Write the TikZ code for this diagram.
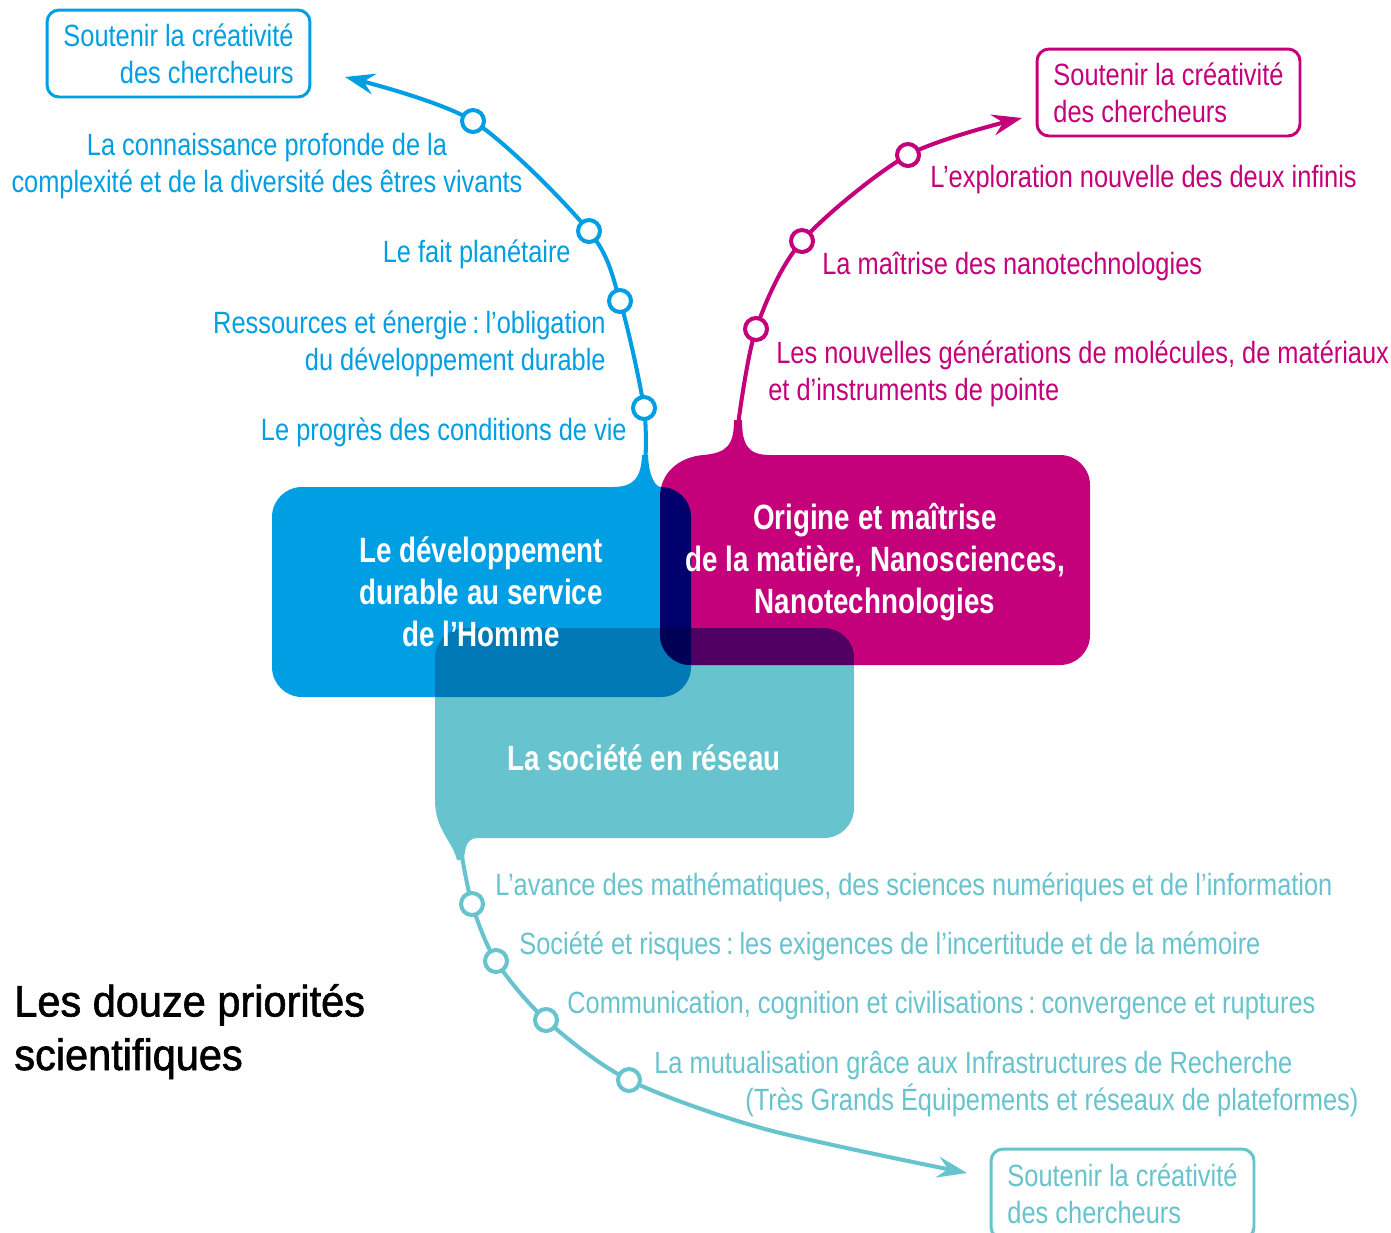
\documentclass[tikz,border=0pt]{standalone}
\usepackage{fontspec}
\setmainfont{Liberation Sans}[FakeStretch=0.826]
\newfontfamily\titlefont{Liberation Sans}[FakeStretch=0.945,FakeBold=1.4]
\newfontfamily\boxfont{Liberation Sans}[FakeStretch=0.79]
\usetikzlibrary{arrows.meta}
\definecolor{cblue}{HTML}{009FE3}
\definecolor{cmag}{HTML}{C5007B}
\definecolor{ccyan}{HTML}{67C3CD}
\newcommand{\colsep}{\,:\hspace{0.2em}}
\begin{document}
\begin{tikzpicture}[x=0.02cm,y=-0.02cm,
 lbl/.style={inner sep=0pt, font=\fontsize{17.5}{21}\selectfont},
 ttl/.style={inner sep=0pt, text=white, align=center, font=\boxfont\bfseries\fontsize{20}{23.8}\selectfont},
 dot/.style={circle, draw=#1, fill=white, line width=2.3pt, minimum size=0.44cm, inner sep=0pt},
 route/.style={draw=#1, line width=2.3pt, -{Stealth[length=17pt,width=12pt,inset=6pt]}},
 goal/.style={draw=#1, text=#1, line width=1.7pt, rounded corners=0.24cm, minimum width=5.26cm, minimum height=1.74cm, inner sep=0pt, font=\fontsize{17.5}{21}\selectfont}]
\path[use as bounding box] (0,0) rectangle (1391,1232);
\clip (0,0) rectangle (1391,1232);
\fill[white] (0,0) rectangle (1391,1232);

% coloured boxes
\begin{scope}[blend mode=multiply]
\fill[cblue] (302,487) -- (612,487) .. controls (634,487) and (641,478) .. (642,455) -- (648,455) .. controls (649,478) and (656,487) .. (661,487) .. controls (677.6,487) and (691,500.4) .. (691,517) -- (691,667) .. controls (691,683.6) and (677.6,697) .. (661,697) -- (302,697) .. controls (285.4,697) and (272,683.6) .. (272,667) -- (272,517) .. controls (272,500.4) and (285.4,487) .. (302,487) -- cycle;
\fill[cmag] (734,420) -- (742,420) .. controls (742,445) and (748,455) .. (770,455) -- (1060,455) .. controls (1076.6,455) and (1090,468.4) .. (1090,485) -- (1090,635) .. controls (1090,651.6) and (1076.6,665) .. (1060,665) -- (690,665) .. controls (673.4,665) and (660,651.6) .. (660,635) -- (660,497) .. controls (660,472) and (680,457) .. (703,455) .. controls (727,453) and (734,445) .. (734,420) -- cycle;
\fill[ccyan] (465,628) -- (824,628) .. controls (840.6,628) and (854,641.4) .. (854,658) -- (854,808) .. controls (854,824.6) and (840.6,838) .. (824,838) -- (478,838) .. controls (468,838) and (465,845) .. (464,860) -- (457,860) .. controls (452,840) and (435,830) .. (435,800) -- (435,658) .. controls (435,641.4) and (448.4,628) .. (465,628) -- cycle;
\end{scope}

\node[ttl] (dev) at (481,592) {Le développement\\durable au service\\de l’Homme};
\node[ttl] (mat) at (875,562) {Origine et maîtrise\\de la matière, Nanosciences,\\Nanotechnologies};
\node[ttl, anchor=base] (soc) at (644,770) {La société en réseau};

% goal boxes
\node[goal=cblue, align=right] (gb) at (178.5,53.5) {Soutenir la créativité\\des chercheurs};
\node[goal=cmag, align=left] (gm) at (1168.5,92.5) {Soutenir la créativité\\des chercheurs};
\node[goal=ccyan, align=left, minimum height=1.8cm] (gc) at (1122.5,1194) {Soutenir la créativité\\des chercheurs};

% route coordinates
\coordinate (bt) at (645,470);
\coordinate (b1) at (644,408);
\coordinate (b2) at (620,301);
\coordinate (b3) at (589,231);
\coordinate (b4) at (473,121);
\coordinate (be) at (345,77);
\coordinate (mt) at (738,425);
\coordinate (m1) at (756,329);
\coordinate (m2) at (802,241);
\coordinate (m3) at (908,155);
\coordinate (me) at (1022,118);
\coordinate (ct) at (460,845);
\coordinate (c1) at (472,904);
\coordinate (c2) at (496,961);
\coordinate (c3) at (546,1020);
\coordinate (c4) at (629,1080);
\coordinate (cm) at (765,1129);
\coordinate (ce) at (967,1173);

\draw[route=cblue] plot[smooth] coordinates {(bt) (b1) (b2) (b3) (b4) (be)};
\draw[route=cmag] plot[smooth] coordinates {(mt) (m1) (m2) (m3) (me)};
\draw[route=ccyan] plot[smooth] coordinates {(ct) (c1) (c2) (c3) (c4) (cm) (ce)};

\foreach \p in {b1,b2,b3,b4} \node[dot=cblue] (d\p) at (\p) {};
\foreach \p in {m1,m2,m3} \node[dot=cmag] (d\p) at (\p) {};
\foreach \p in {c1,c2,c3,c4} \node[dot=ccyan] (d\p) at (\p) {};

% blue labels
\node[lbl, text=cblue, align=center, anchor=base] (lb4) at (267,192) {La connaissance profonde de la\\complexité et de la diversité des êtres vivants};
\node[lbl, text=cblue, anchor=base east] (lb3) at (571,262) {Le fait planétaire};
\node[lbl, text=cblue, align=right, anchor=base east] (lb2) at (606,370) {Ressources et énergie\colsep l’obligation\\du développement durable};
\node[lbl, text=cblue, anchor=base east] (lb1) at (627,440) {Le progrès des conditions de vie};

% magenta labels
\node[lbl, text=cmag, anchor=base west] (lm3) at (930,187) {L’exploration nouvelle des deux infinis};
\node[lbl, text=cmag, anchor=base west] (lm2) at (822,274) {La maîtrise des nanotechnologies};
\node[lbl, text=cmag, align=left, anchor=base west] (lm1) at (768,400) {\hspace*{0.16cm}Les nouvelles générations de molécules, de matériaux\\et d’instruments de pointe};

% cyan labels
\node[lbl, text=ccyan, anchor=base west] (lc1) at (495,895) {L’avance des mathématiques, des sciences numériques et de l’information};
\node[lbl, text=ccyan, anchor=base west] (lc2) at (519,954) {Société et risques\colsep les exigences de l’incertitude et de la mémoire};
\node[lbl, text=ccyan, anchor=base west] (lc3) at (567,1013) {Communication, cognition et civilisations\colsep convergence et ruptures};
\node[lbl, text=ccyan, align=left, anchor=base west] (lc4) at (654,1110) {La mutualisation grâce aux Infrastructures de Recherche\\\hspace*{1.82cm}(Très Grands Équipements et réseaux de plateformes)};

% title
\node[inner sep=0pt, align=left, anchor=base west, font=\titlefont\fontsize{25}{30.5}\selectfont] (title) at (14,1070) {Les douze priorités\\scientifiques};
\end{tikzpicture}
\end{document}
